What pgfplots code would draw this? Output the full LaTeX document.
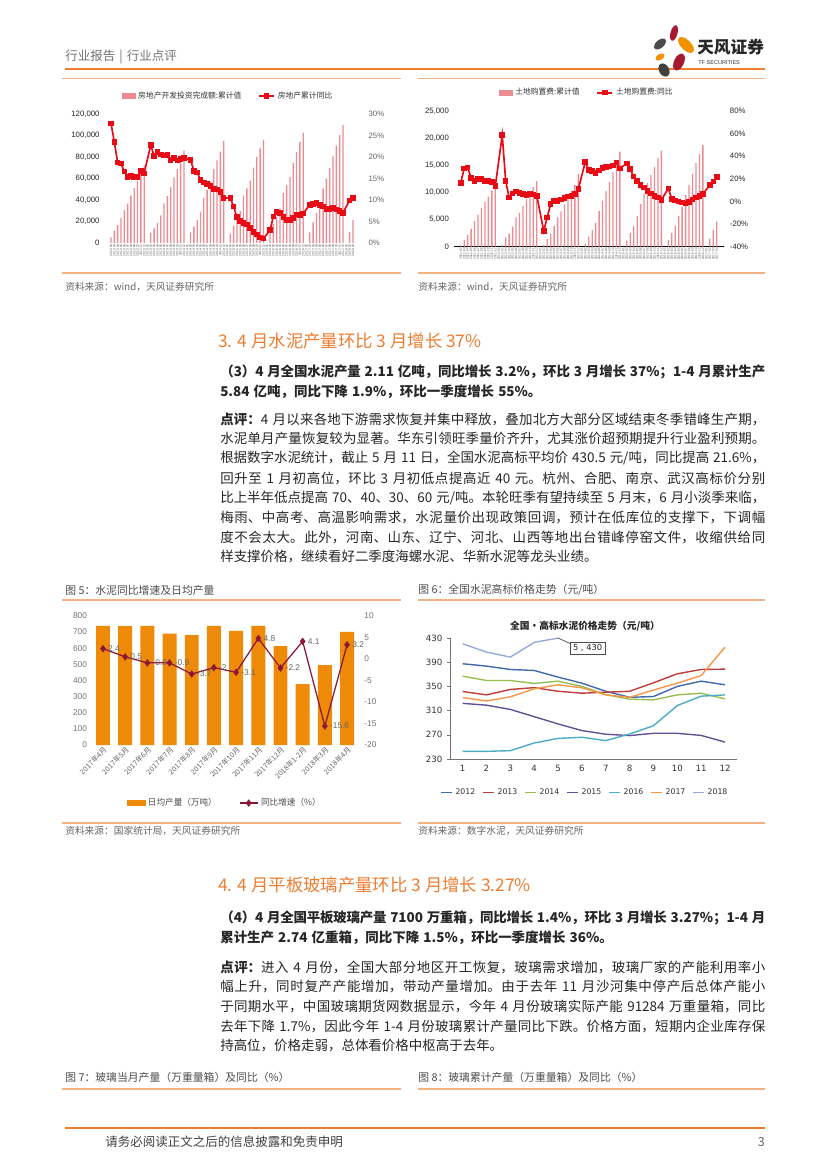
\documentclass[border=0pt]{standalone}
\usepackage{fontspec}
\setmainfont{Noto Sans CJK SC}
\newfontfamily\arial{Liberation Sans}
\newfontfamily\dejavu{DejaVu Sans}
\usepackage{pgfplots}
\pgfplotsset{compat=1.18}
\pgfplotsset{/pgf/number format/assume math mode=true, /pgf/number format/fixed, /pgf/number format/1000 sep={,}, scaled ticks=false}
\pgfplotsset{
 linelegend/.style={legend image code/.code={\draw[mark repeat=2,mark phase=2,##1] plot coordinates {(0pt,0pt) (5.5pt,0pt) (11pt,0pt)};}},
 linelegendB/.style={legend image code/.code={\draw[mark repeat=2,mark phase=2,##1] plot coordinates {(0pt,0pt) (6.5pt,0pt) (13pt,0pt)};}},
 pinklegend/.style={legend image code/.code={\fill[pinkbar] (0pt,-1.6pt) rectangle (9.5pt,1.6pt);}},
 cementlegend/.style={legend image code/.code={\fill[cementbar] (0pt,-1.8pt) rectangle (13pt,1.8pt);}},
 shortline/.style={legend image code/.code={\draw[##1] (0pt,0pt) -- (8pt,0pt);}}
}
\XeTeXlinebreaklocale "zh"
\XeTeXlinebreakskip=0pt plus 1pt minus 0.2pt
\hbadness=10000
\definecolor{tforange}{RGB}{237,125,49}
\definecolor{framel}{RGB}{244,177,131}
\definecolor{pinkbar}{RGB}{236,140,146}
\definecolor{redline}{RGB}{232,10,20}
\definecolor{cementbar}{RGB}{238,138,8}
\definecolor{maroon}{RGB}{140,24,56}
\definecolor{cA}{RGB}{65,105,170}
\definecolor{cB}{RGB}{190,60,60}
\definecolor{cC}{RGB}{150,190,80}
\definecolor{cD}{RGB}{100,80,150}
\definecolor{cE}{RGB}{75,172,198}
\definecolor{cF}{RGB}{247,150,70}
\definecolor{cG}{RGB}{150,170,215}
\definecolor{logored}{RGB}{166,25,46}
\definecolor{logoorange}{RGB}{243,146,0}
\newcommand\bodyfont{\fontsize{9.7}{14}\selectfont\spaceskip=0.3em plus 1pt minus 0.3pt\relax}
\newcommand\jl[2]{\node[anchor=west,inner sep=0pt,text=black!85] at (220,#1) {\parbox{392.4pt}{\bodyfont\parindent=0pt\parfillskip=0pt\rightskip=0pt\leftskip=0pt #2\par}};}
\newcommand\pl[2]{\node[anchor=west,inner sep=0pt,text=black!85] at (220,#1) {\bodyfont #2};}
\newcommand\capfont{\fontsize{7.8}{9}\selectfont}
\newcommand\srcfont{\fontsize{7}{8}\selectfont}
\begin{document}
\begin{tikzpicture}[x=0.72pt,y=-0.72pt]
\path[fill=white] (0,0) rectangle (827,1169);
% header
\node[anchor=west,inner sep=0pt,text=black!55,font=\fontsize{9}{10}\selectfont] at (65,57) {行业报告\hspace{3pt}|\hspace{3pt}行业点评};
\draw[tforange,line width=1.3pt] (65,69) -- (765,69);
\fill[logored,rotate around={-15:(674,33)}] (674,33) ellipse (3.5 and 8);
\fill[logoorange,rotate around={45:(686,45)}] (686,45) ellipse (5 and 10);
\fill[black!70,rotate around={-50:(660,44)}] (660,44) ellipse (4 and 7);
\fill[logoorange,rotate around={-60:(660,57)}] (660,57) ellipse (3 and 5);
\fill[logored,rotate around={-25:(679,62)}] (679,62) ellipse (5 and 9);
\fill[black!75,rotate around={30:(664,70)}] (664,70) ellipse (5 and 7);
\node[anchor=west,inner sep=0pt,font=\fontsize{12}{13}\selectfont\bfseries,text=black!85] at (697,47) {天风证券};
\node[anchor=west,inner sep=0pt,font=\arial\fontsize{4}{5}\selectfont,text=black!80] at (698,63) {TF SECURITIES};
% frames fig 1/2
\draw[framel,line width=0.6pt] (62,78) -- (401,78);
\draw[framel,line width=0.6pt] (418,78) -- (765,78);
\draw[framel,line width=0.8pt] (62,273) -- (401,273);
\draw[framel,line width=0.8pt] (418,273) -- (765,273);
\node[anchor=west,inner sep=0pt,text=black!60,font=\srcfont] at (65,287) {资料来源：wind，天风证券研究所};
\node[anchor=west,inner sep=0pt,text=black!60,font=\srcfont] at (418,287) {资料来源：wind，天风证券研究所};

% ===== Chart 1 =====
\coordinate (o1) at (104.4,243);
\begin{axis}[at={(o1)}, anchor=south west, scale only axis, width=183.7pt, height=92.9pt,
 xmin=-2, xmax=75, ymin=0, ymax=120000, ybar, bar width=0.95pt,
 axis line style={draw=none}, major tick length=0pt,
 ytick={0,20000,40000,60000,80000,100000,120000},
 yticklabel style={font=\arial\fontsize{5.6}{6}\selectfont, text=black!85},
 xtick={0,...,73},
 xticklabel={\pgfmathtruncatemacro{\ii}{round(\tick)}\pgfmathtruncatemacro{\yy}{2012+floor((\ii+1)/12)}\pgfmathtruncatemacro{\mm}{mod(\ii+1,12)+1}\yy-\ifnum\mm<10 0\fi\mm},
 xticklabel style={rotate=90, anchor=east, font=\arial\fontsize{2.3}{2.5}\selectfont, text=black!65, inner sep=0.8pt},
 clip=false]
\addplot[fill=pinkbar, draw=none] coordinates {
(0,5286)(1,11500)(2,16800)(3,23100)(4,30600)(5,36600)(6,44000)(7,51000)(8,57500)(9,64500)(10,71800)
(12,9378)(13,13500)(14,18800)(15,25700)(16,36800)(17,43600)(18,52000)(19,61100)(20,68800)(21,76500)(22,86000)
(24,10000)(25,15300)(26,21300)(27,29000)(28,42000)(29,49700)(30,57000)(31,68800)(32,76800)(33,85000)(34,95000)
(36,8800)(37,16200)(38,21800)(39,29600)(40,44000)(41,50900)(42,58000)(43,70100)(44,80000)(45,88000)(46,96000)
(48,9050)(49,17700)(50,24200)(51,32200)(52,46600)(53,53600)(54,61400)(55,74600)(56,84600)(57,93900)(58,102600)
(60,9850)(61,19300)(62,27700)(63,36800)(64,50600)(65,59800)(66,69700)(67,80600)(68,90500)(69,100400)(70,109800)
(72,10357)(73,21291)};
\end{axis}
\begin{axis}[at={(o1)}, anchor=south west, scale only axis, width=183.7pt, height=92.9pt,
 xmin=-2, xmax=75, ymin=0, ymax=30, axis x line=none, axis y line*=right, y axis line style={draw=none}, major tick length=0pt,
 ytick={0,5,...,30}, yticklabel={\pgfmathprintnumber{\tick}\%},
 yticklabel style={font=\arial\fontsize{5.6}{6}\selectfont, text=black!60, xshift=3pt},
 legend style={at={(0.486,1.14)}, anchor=center, draw=none, fill=none, font=\fontsize{5.6}{6}\selectfont, text=black!80, inner sep=0pt, /tikz/every even column/.append style={column sep=10pt}},
 legend columns=2, clip=false]
\addlegendimage{pinklegend}
\addlegendentry{房地产开发投资完成额:累计值}
\addplot[redline, line width=1.2pt, mark=square*, mark size=1.4pt, linelegend] coordinates {
(0,27.8)(1,23.5)(2,18.7)(3,18.5)(4,16.6)(5,15.4)(6,15.6)(7,15.4)(8,15.4)(9,16.7)(10,16.2)
(12,22.8)(13,20.2)(14,21.1)(15,20.6)(16,20.3)(17,20.5)(18,19.3)(19,19.7)(20,19.2)(21,19.5)(22,19.8)
(24,19.3)(25,16.8)(26,16.4)(27,14.7)(28,14.1)(29,13.7)(30,13.2)(31,12.5)(32,12.4)(33,11.9)(34,10.5)
(36,10.4)(37,8.5)(38,6.0)(39,5.1)(40,4.6)(41,4.3)(42,3.5)(43,2.6)(44,2.0)(45,1.3)(46,1.0)
(48,3.0)(49,6.2)(50,7.2)(51,7.0)(52,6.1)(53,5.3)(54,5.4)(55,5.8)(56,6.6)(57,6.5)(58,6.9)
(60,8.9)(61,9.1)(62,9.3)(63,8.8)(64,8.5)(65,7.9)(66,7.9)(67,8.1)(68,7.8)(69,7.5)(70,7.0)
(72,9.9)(73,10.4)};
\addlegendentry{房地产累计同比}
\end{axis}

% ===== Chart 2 =====
\coordinate (o2) at (453.8,246.7);
\begin{axis}[at={(o2)}, anchor=south west, scale only axis, width=194.3pt, height=97.7pt,
 xmin=-2, xmax=76, ymin=0, ymax=25000, ybar, bar width=0.95pt,
 axis x line*=bottom, axis y line*=left, y axis line style={draw=none}, x axis line style={black, line width=0.6pt}, major tick length=0pt,
 ytick={0,5000,10000,15000,20000,25000},
 yticklabel style={font=\arial\fontsize{5.6}{6}\selectfont, text=black!85},
 xtick={0,...,74},
 xticklabel={\pgfmathtruncatemacro{\ii}{round(\tick)}\pgfmathtruncatemacro{\yy}{2011+floor((\ii+1)/12)}\pgfmathtruncatemacro{\mm}{mod(\ii+1,12)+1}\yy-\ifnum\mm<10 0\fi\mm},
 xticklabel style={rotate=90, anchor=east, font=\arial\fontsize{2.3}{2.5}\selectfont, text=black!65, inner sep=0.8pt},
 clip=false]
\addplot[fill=pinkbar, draw=none] coordinates {
(0,250)(1,1200)(2,2200)(3,3300)(4,4750)(5,5900)(6,7100)(7,8300)(8,9200)(9,10400)(10,11600)
(12,400)(13,1700)(14,2400)(15,3700)(16,5400)(17,6300)(18,7500)(19,8800)(20,9400)(21,11000)(22,12100)
(24,300)(25,1400)(26,2400)(27,3800)(28,5400)(29,6500)(30,7800)(31,8800)(32,10300)(33,11400)(34,13400)
(36,500)(37,1850)(38,3000)(39,4400)(40,6600)(41,8500)(42,10300)(43,11900)(44,13700)(45,15600)(46,17500)
(48,1100)(49,2500)(50,3800)(51,5700)(52,7900)(53,9700)(54,11700)(55,13200)(56,14700)(57,16300)(58,17700)
(60,1200)(61,2500)(62,3900)(63,5700)(64,7400)(65,9500)(66,11400)(67,13400)(68,15400)(69,17100)(70,18700)
(72,1500)(73,3100)(74,4600)};
\end{axis}
\begin{axis}[at={(o2)}, anchor=south west, scale only axis, width=194.3pt, height=97.7pt,
 xmin=-2, xmax=76, ymin=-40, ymax=80, axis x line=none, axis y line*=right, y axis line style={draw=none}, major tick length=0pt,
 ytick={-40,-20,...,80}, yticklabel={\pgfmathprintnumber{\tick}\%},
 yticklabel style={font=\arial\fontsize{5.6}{6}\selectfont, text=black!85, xshift=1pt},
 legend style={at={(0.494,1.135)}, anchor=center, draw=none, fill=none, font=\fontsize{5.6}{6}\selectfont, text=black!80, inner sep=0pt, /tikz/every even column/.append style={column sep=10pt}},
 legend columns=2, clip=false]
\addlegendimage{pinklegend}
\addlegendentry{土地购置费:累计值}
\addplot[redline, line width=1.2pt, mark=square*, mark size=1.4pt, linelegend] coordinates {
(0,16.5)(1,29)(2,30)(3,21)(4,18)(5,20)(6,20)(7,18)(8,18)(9,17)(10,13.6)
(12,58.7)(13,18)(14,3.5)(15,7)(16,9)(17,7.7)(18,6.5)(19,5.6)(20,6.8)(21,6)(22,4.7)
(24,-26)(25,-14)(26,-2.4)(27,0.6)(28,0.6)(29,1.8)(30,3.2)(31,4.4)(32,5)(33,6.5)(34,11)
(36,35)(37,28)(38,27)(39,25)(40,27.5)(41,29.5)(42,30.5)(43,31)(44,32)(45,34.5)(46,29.3)
(48,33.7)(49,28.7)(50,21.9)(51,18.1)(52,14.6)(53,12.5)(54,9.5)(55,7.2)(56,4.9)(57,3.4)(58,1.3)
(60,11.6)(61,2.2)(62,0.7)(63,-0.2)(64,-1)(65,-1.6)(66,-0.7)(67,1.9)(68,3.7)(69,4.9)(70,6.4)
(72,14.6)(73,17.5)(74,21.4)};
\addlegendentry{土地购置费:同比}
\end{axis}

% ===== Section 3 text =====
\node[anchor=west,inner sep=0pt,text=tforange,font=\fontsize{12.5}{14}\selectfont] at (218,341) {3. 4 月水泥产量环比 3 月增长 37\%};
\jl{372}{\bfseries （3）4 月全国水泥产量 2.11 亿吨，同比增长 3.2\%，环比 3 月增长 37\%；1-4 月累计生产}
\pl{392}{\bfseries 5.84 亿吨，同比下降 1.9\%，环比一季度增长 55\%。}
\jl{419}{{\bfseries 点评：}4 月以来各地下游需求恢复并集中释放，叠加北方大部分区域结束冬季错峰生产期，}
\jl{438.7}{水泥单月产量恢复较为显著。华东引领旺季量价齐升，尤其涨价超预期提升行业盈利预期。}
\jl{458.4}{根据数字水泥统计，截止 5 月 11 日，全国水泥高标平均价 430.5 元/吨，同比提高 21.6\%，}
\jl{478.1}{回升至 1 月初高位，环比 3 月初低点提高近 40 元。杭州、合肥、南京、武汉高标价分别}
\jl{497.8}{比上半年低点提高 70、40、30、60 元/吨。本轮旺季有望持续至 5 月末，6 月小淡季来临，}
\jl{517.5}{梅雨、中高考、高温影响需求，水泥量价出现政策回调，预计在低库位的支撑下，下调幅}
\jl{537.2}{度不会太大。此外，河南、山东、辽宁、河北、山西等地出台错峰停窑文件，收缩供给同}
\pl{556.9}{样支撑价格，继续看好二季度海螺水泥、华新水泥等龙头业绩。}

% captions fig 5/6
\node[anchor=west,inner sep=0pt,text=black!70,font=\capfont] at (65,590) {图 5：水泥同比增速及日均产量};
\node[anchor=west,inner sep=0pt,text=black!70,font=\capfont] at (418,590) {图 6：全国水泥高标价格走势（元/吨）};
\draw[framel,line width=0.8pt] (62,600) -- (401,600);
\draw[framel,line width=0.8pt] (418,600) -- (765,600);
\draw[framel,line width=0.8pt] (62,823) -- (401,823);
\draw[framel,line width=0.8pt] (418,823) -- (765,823);
\node[anchor=west,inner sep=0pt,text=black!60,font=\srcfont] at (65,831) {资料来源：国家统计局，天风证券研究所};
\node[anchor=west,inner sep=0pt,text=black!60,font=\srcfont] at (418,831) {资料来源：数字水泥，天风证券研究所};

% ===== Chart 5 =====
\coordinate (o5) at (91.9,745);
\begin{axis}[at={(o5)}, anchor=south west, scale only axis, width=191.7pt, height=92.9pt,
 xmin=-0.5, xmax=11.5, ymin=0, ymax=800, ybar, bar width=10pt,
 axis line style={draw=none}, major tick length=0pt,
 ytick={0,100,...,800},
 yticklabel style={font=\arial\fontsize{6}{7}\selectfont, text=black!55},
 xtick={0,...,11},
 xticklabels={2017年4月,2017年5月,2017年6月,2017年7月,2017年8月,2017年9月,2017年10月,2017年11月,2017年12月,2018年1-2月,2018年3月,2018年4月},
 xticklabel style={rotate=45, anchor=north east, font=\fontsize{5.2}{6}\selectfont, text=black!60, inner sep=0.5pt},
 clip=false]
\addplot[fill=cementbar, draw=none] coordinates {(0,738)(1,737)(2,738)(3,690)(4,682)(5,738)(6,707)(7,738)(8,613)(9,377)(10,495)(11,702)};
\end{axis}
\begin{axis}[at={(o5)}, anchor=south west, scale only axis, width=191.7pt, height=92.9pt,
 xmin=-0.5, xmax=11.5, ymin=-20, ymax=10, axis x line=none, axis y line*=right, y axis line style={draw=none}, major tick length=0pt,
 ytick={-20,-15,...,10},
 yticklabel style={font=\arial\fontsize{6}{7}\selectfont, text=black!55, xshift=1pt},
 legend style={at={(0.5,-0.45)}, anchor=center, draw=none, fill=none, font=\fontsize{6.2}{7}\selectfont, text=black!70, inner sep=0pt, /tikz/every even column/.append style={column sep=14pt}},
 legend columns=2, clip=false]
\addlegendimage{cementlegend}
\addlegendentry{日均产量（万吨）}
\addplot[maroon, line width=0.9pt, mark=diamond*, mark size=2pt, nodes near coords, point meta=explicit symbolic,
 nodes near coords style={anchor=west, font=\arial\fontsize{6}{7}\selectfont, text=black!60, xshift=0pt}, linelegendB] coordinates {
(0,2.4)[2.4] (1,0.5)[0.5] (2,-0.9)[-0.9] (3,-0.9)[-0.9] (4,-3.5)[-3.7] (5,-2.0)[-2] (6,-3.1)[-3.1] (7,4.8)[4.8] (8,-2.1)[-2.2] (9,4.1)[4.1] (10,-15.6)[-15.6] (11,3.3)[3.2]};
\addlegendentry{同比增速（\%）}
\end{axis}

% ===== Chart 6 =====
\node[inner sep=0pt,text=black!85,font=\fontsize{7}{8}\selectfont\bfseries] at (585,626) {全国·高标水泥价格走势（元/吨）};
\coordinate (o6) at (450.7,759);
\begin{axis}[at={(o6)}, anchor=south west, scale only axis, width=206.1pt, height=87.1pt,
 xmin=0.5, xmax=12.5, ymin=230, ymax=430,
 axis x line*=bottom, axis y line*=left, axis line style={draw=black!55, line width=0.6pt},
 xtick={1,...,12}, ytick={230,270,...,430}, 
 xtick style={draw=none}, ytick style={draw=black!55}, major tick length=2.5pt,
 minor xtick={0.5,1.5,...,12.5}, minor tick length=2.5pt, minor tick style={draw=black!55},
 xtick align=inside, ytick align=outside,
 xticklabel style={font=\dejavu\fontsize{6.2}{7}\selectfont, text=black!80, yshift=-1pt},
 yticklabel style={font=\dejavu\fontsize{6.2}{7}\selectfont, text=black!80},
 legend style={at={(0.47,-0.275)}, anchor=center, draw=none, fill=none, font=\dejavu\fontsize{5.6}{7}\selectfont, text=black!80, inner sep=0pt, /tikz/every even column/.append style={column sep=3pt}},
 legend columns=7, shortline,
 every axis plot/.append style={line width=1pt, no marks}, clip=false]
\addplot[cA] coordinates {(1,387.5)(2,383.6)(3,378)(4,376.4)(5,365.4)(6,355.4)(7,342)(8,332)(9,333.3)(10,350)(11,358.7)(12,352.7)};
\addlegendentry{2012}
\addplot[cB] coordinates {(1,341.6)(2,336)(3,345)(4,348)(5,342)(6,338.8)(7,340.5)(8,342)(9,356)(10,370.9)(11,378)(12,378.6)};
\addlegendentry{2013}
\addplot[cC] coordinates {(1,367)(2,359.8)(3,359.8)(4,354.9)(5,358.7)(6,350)(7,336.6)(8,328.9)(9,327.8)(10,336)(11,338.8)(12,329.5)};
\addlegendentry{2014}
\addplot[cD] coordinates {(1,322)(2,319)(3,312)(4,300)(5,288)(6,277)(7,271)(8,268.7)(9,272.5)(10,272.5)(11,269)(12,258)};
\addlegendentry{2015}
\addplot[cE] coordinates {(1,242.7)(2,242.7)(3,243.8)(4,256.5)(5,264)(6,266)(7,260.4)(8,271.4)(9,285)(10,318.4)(11,333.9)(12,336)};
\addlegendentry{2016}
\addplot[cF] coordinates {(1,331.7)(2,326)(3,332.8)(4,346)(5,352.7)(6,347.7)(7,336)(8,332)(9,344)(10,355.4)(11,368)(12,415)};
\addlegendentry{2017}
\addplot[cG] coordinates {(1,420.6)(2,406.8)(3,398.5)(4,422.8)(5,430)};
\addlegendentry{2018}
\draw[black!70, line width=0.5pt] (axis cs:5,430) -- (axis cs:5.5,421);
\node[draw=black!70, fill=white, inner sep=2pt, font=\dejavu\fontsize{6}{7}\selectfont, text=black!85, anchor=north west] at (axis cs:5.5,424) {5 , 430};
\end{axis}

% ===== Section 4 =====
\node[anchor=west,inner sep=0pt,text=tforange,font=\fontsize{12.5}{14}\selectfont] at (218,885) {4. 4 月平板玻璃产量环比 3 月增长 3.27\%};
\jl{918}{\bfseries （4）4 月全国平板玻璃产量 7100 万重箱，同比增长 1.4\%，环比 3 月增长 3.27\%；1-4 月}
\pl{938}{\bfseries 累计生产 2.74 亿重箱，同比下降 1.5\%，环比一季度增长 36\%。}
\jl{967}{{\bfseries 点评：}进入 4 月份，全国大部分地区开工恢复，玻璃需求增加，玻璃厂家的产能利用率小}
\jl{986.7}{幅上升，同时复产产能增加，带动产量增加。由于去年 11 月沙河集中停产后总体产能小}
\jl{1006.4}{于同期水平，中国玻璃期货网数据显示，今年 4 月份玻璃实际产能 91284 万重量箱，同比}
\jl{1026.1}{去年下降 1.7\%，因此今年 1-4 月份玻璃累计产量同比下跌。价格方面，短期内企业库存保}
\pl{1045.8}{持高位，价格走弱，总体看价格中枢高于去年。}
\node[anchor=west,inner sep=0pt,text=black!70,font=\capfont] at (65,1077) {图 7：玻璃当月产量（万重量箱）及同比（\%）};
\node[anchor=west,inner sep=0pt,text=black!70,font=\capfont] at (418,1077) {图 8：玻璃累计产量（万重量箱）及同比（\%）};
\draw[framel,line width=0.8pt] (62,1089) -- (401,1089);
\draw[framel,line width=0.8pt] (418,1089) -- (765,1089);
% footer
\draw[tforange,line width=1.3pt] (65,1128) -- (765,1128);
\node[anchor=west,inner sep=0pt,text=black!75,font=\fontsize{9}{10}\selectfont] at (105,1142) {请务必阅读正文之后的信息披露和免责申明};
\node[anchor=east,inner sep=0pt,text=black!60,font=\fontsize{9}{10}\selectfont] at (765,1142) {3};
\end{tikzpicture}
\end{document}
